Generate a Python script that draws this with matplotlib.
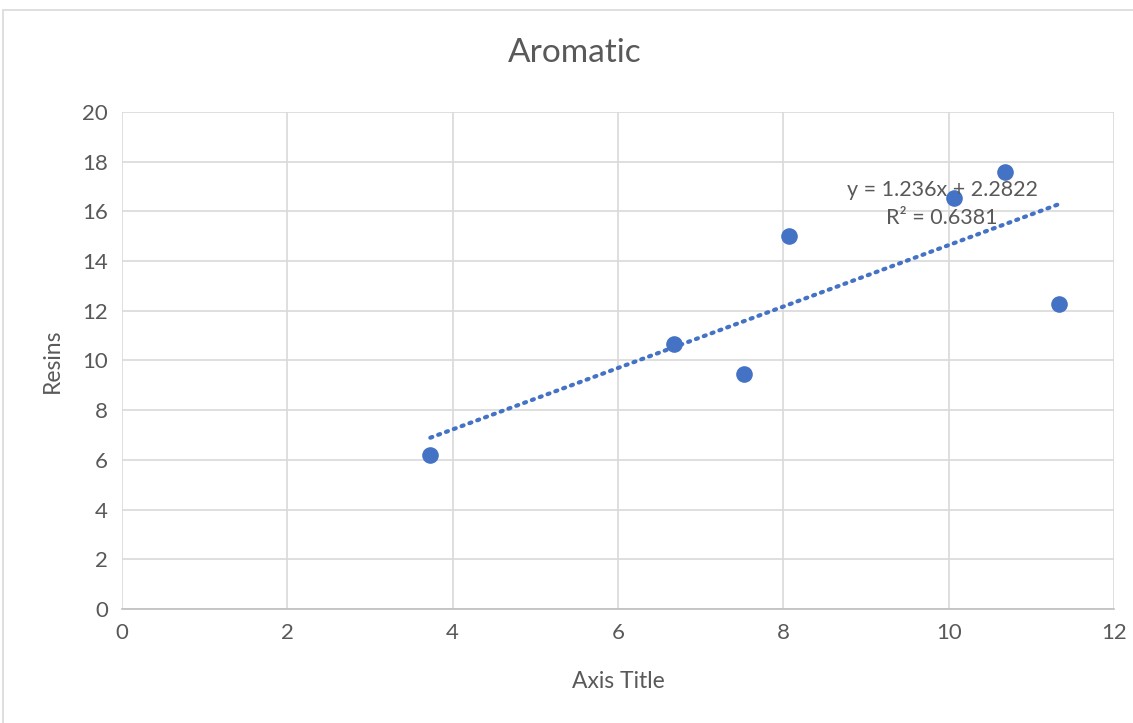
import matplotlib
matplotlib.use('Agg')
import matplotlib.pyplot as plt
import numpy as np
from matplotlib.patches import Rectangle

# data
aromatic = [3.73, 6.68, 7.52, 8.07, 10.06, 10.68, 11.33]
resins = [6.2, 10.66, 9.46, 15.01, 16.54, 17.59, 12.27]
slope = 1.236
intercept = 2.2822
r2 = 0.6381

gray = '#595959'
blue = '#4472C4'
plt.rcParams['font.family'] = ['Lato', 'DejaVu Sans']

fig = plt.figure(figsize=(11.33, 7.23), dpi=100)
ax = fig.add_axes([0.1077, 0.1577, 0.8755, 0.6874])

# outer chart border
fig.patches.append(Rectangle((3 / 1133, -0.01), 1.02, 1 - 10 / 723 + 0.01,
                             transform=fig.transFigure, fill=False,
                             edgecolor='#d9d9d9', linewidth=1.2))

ax.scatter(aromatic, resins, s=120, color=blue, zorder=3)

x_fit = np.array([min(aromatic), max(aromatic)])
ax.plot(x_fit, slope * x_fit + intercept, color=blue, linestyle=(0, (0.5, 1.5)),
        linewidth=3, dash_capstyle='round', zorder=2)

ax.text(9.92, 16.86, f'y = {slope}x + {intercept}', ha='center', va='center',
        fontsize=15.5, color=gray, zorder=4)
ax.text(9.92, 15.73, f'R² = {r2}', ha='center', va='center',
        fontsize=15.5, color=gray, zorder=4)

ax.set_xlim(0, 12)
ax.set_ylim(0, 20)
ax.set_xticks(range(0, 13, 2))
ax.set_yticks(range(0, 21, 2))
ax.grid(True, color='#d9d9d9', linewidth=1.2)
ax.set_axisbelow(True)
for side in ['top', 'right', 'left']:
    ax.spines[side].set_visible(False)
ax.spines['bottom'].set_color('#bfbfbf')
ax.spines['bottom'].set_linewidth(1.2)
ax.tick_params(length=0, labelsize=16, labelcolor=gray, pad=10)

fig.text(575 / 1133, 1 - 53 / 723, 'Aromatic', ha='center', va='center',
         fontsize=24, color=gray)
ax.set_xlabel('Axis Title', fontsize=16.5, color=gray, labelpad=20)
ax.set_ylabel('Resins', fontsize=16.5, color=gray, labelpad=14)

plt.savefig('out.png', dpi=100)
plt.close()
